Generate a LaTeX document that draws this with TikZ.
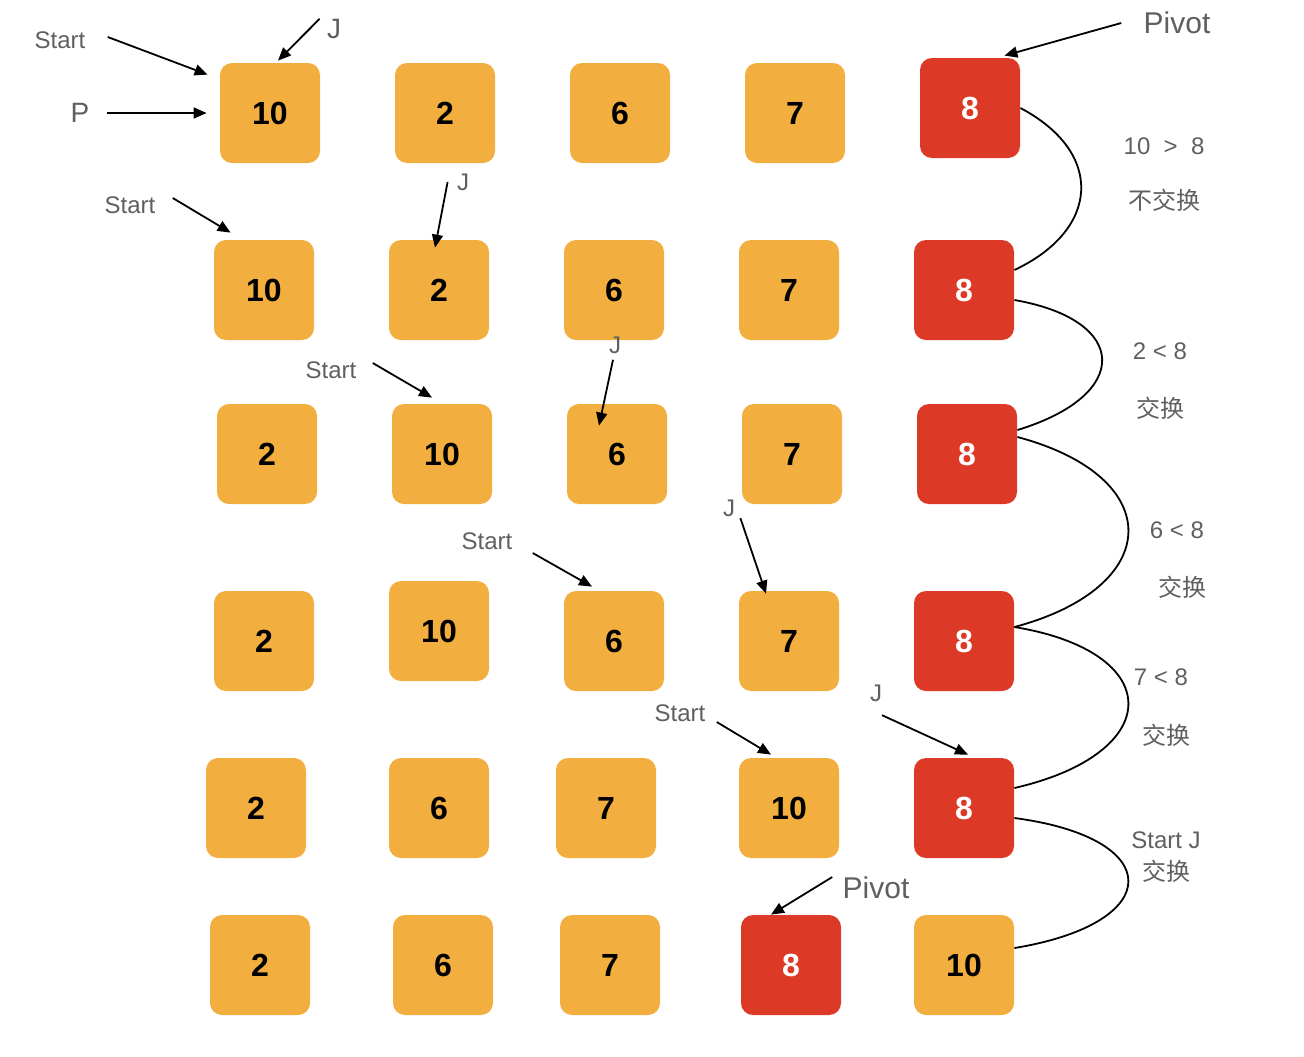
\documentclass[tikz,border=0pt]{standalone}
\usepackage{fontspec}
\setmainfont{Liberation Sans}
\newfontfamily\cjk{Noto Sans CJK SC}
\usetikzlibrary{arrows, arrows.meta, positioning}
\definecolor{cellorange}{HTML}{F2AE3E}
\definecolor{pivotred}{HTML}{DC3A26}
\definecolor{notegray}{HTML}{5F5F5F}
\tikzstyle{numcell} = [
  rectangle,
  rounded corners=6pt,
  minimum width=50pt,
  minimum height=50pt,
  inner sep=0pt,
  text centered,
  fill=cellorange,
  font=\fontsize{16}{16}\selectfont\bfseries
]
\tikzstyle{pivotcell} = [numcell, fill=pivotred, text=white]
\tikzstyle{note} = [inner sep=0pt, text=notegray, font=\fontsize{12}{14}\selectfont]
\tikzstyle{bignote} = [note, font=\fontsize{15}{17}\selectfont]
\tikzstyle{arrow} = [line width=0.9pt, ->, >={Triangle[length=6.5pt, width=5.5pt]}]
\tikzstyle{swapline} = [line width=0.9pt]

\begin{document}
\begin{tikzpicture}[x=0.5pt, y=-0.5pt, node distance=87.5pt]
    \useasboundingbox (0,0) rectangle (1304,1056);

    % row 1
    \node (r1-a) [numcell] at (270,113) {10};
    \node (r1-b) [numcell, right of=r1-a] {2};
    \node (r1-c) [numcell, right of=r1-b] {6};
    \node (r1-d) [numcell, right of=r1-c] {7};
    \node (r1-e) [pivotcell, right of=r1-d, yshift=2.5pt] {8};
    % row 2
    \node (r2-a) [numcell] at (264,290) {10};
    \node (r2-b) [numcell, right of=r2-a] {2};
    \node (r2-c) [numcell, right of=r2-b] {6};
    \node (r2-d) [numcell, right of=r2-c] {7};
    \node (r2-e) [pivotcell, right of=r2-d] {8};
    % row 3
    \node (r3-a) [numcell] at (267,454) {2};
    \node (r3-b) [numcell, right of=r3-a] {10};
    \node (r3-c) [numcell, right of=r3-b] {6};
    \node (r3-d) [numcell, right of=r3-c] {7};
    \node (r3-e) [pivotcell, right of=r3-d] {8};
    % row 4
    \node (r4-a) [numcell] at (264,641) {2};
    \node (r4-b) [numcell, right of=r4-a, yshift=5pt] {10};
    \node (r4-c) [numcell, right of=r4-b, yshift=-5pt] {6};
    \node (r4-d) [numcell, right of=r4-c] {7};
    \node (r4-e) [pivotcell, right of=r4-d] {8};
    % row 5
    \node (r5-a) [numcell] at (256,808) {2};
    \node (r5-b) [numcell, right of=r5-a, xshift=4pt] {6};
    \node (r5-c) [numcell, right of=r5-b, xshift=-4pt] {7};
    \node (r5-d) [numcell, right of=r5-c, xshift=4pt] {10};
    \node (r5-e) [pivotcell, right of=r5-d] {8};
    % row 6
    \node (r6-a) [numcell] at (260,965) {2};
    \node (r6-b) [numcell, right of=r6-a, xshift=4pt] {6};
    \node (r6-c) [numcell, right of=r6-b, xshift=-4pt] {7};
    \node (r6-d) [pivotcell, right of=r6-c, xshift=3pt] {8};
    \node (r6-e) [numcell, right of=r6-d, xshift=-1pt] {10};

    % pointers
    \node (start1) [note] at (60,40) {Start};
    \node (p1) [bignote, font=\fontsize{14}{16}\selectfont] at (80,113) {P};
    \node (j1) [bignote, font=\fontsize{14}{16}\selectfont] at (334,29) {J};
    \node (pivot1) [bignote] at (1177,23) {Pivot};
    \node (start2) [note] at (130,205) {Start};
    \node (j2) [note] at (463,182) {J};
    \node (start3) [note] at (331,370) {Start};
    \node (j3) [note] at (615,345) {J};
    \node (start4) [note] at (487,541) {Start};
    \node (j4) [note] at (729,508) {J};
    \node (start5) [note] at (680,713) {Start};
    \node (j5) [note] at (876,693) {J};
    \node (pivot2) [bignote] at (876,888) {Pivot};

    % comparisons
    \node (cmp1) [note] at (1164,146) {10\ \ >\ \ 8};
    \node (res1) [note] at (1164,200) {\cjk 不交换};
    \node (cmp2) [note] at (1160,351) {2 < 8};
    \node (res2) [note] at (1160,408) {\cjk 交换};
    \node (cmp3) [note] at (1177,530) {6 < 8};
    \node (res3) [note] at (1182,587) {\cjk 交换};
    \node (cmp4) [note] at (1161,677) {7 < 8};
    \node (res4) [note] at (1166,735) {\cjk 交换};
    \node (cmp5) [note] at (1166,840) {Start J};
    \node (res5) [note] at (1166,871) {\cjk 交换};

    \draw [arrow] ([xshift=11pt, yshift=1.5pt]start1.east) -- ([xshift=-6pt, yshift=-6pt]r1-a.north west);
    \draw [arrow] ([xshift=8.5pt]p1.east) -- ([xshift=-6.5pt]r1-a.west);
    \draw [arrow] ([xshift=-3.5pt]j1.north west) -- ([xshift=4pt, yshift=1pt]r1-a.north);
    \draw [arrow] ([xshift=-11pt]pivot1.west) -- ([xshift=-8pt, yshift=1pt]r1-e.north east);
    \draw [arrow] ([xshift=8.5pt, yshift=3.5pt]start2.east) -- ([xshift=8.5pt, yshift=3.5pt]r2-a.north west);
    \draw [arrow] ([xshift=-4.5pt]j2.west) -- ([xshift=-2pt, yshift=-4pt]r2-b.north);
    \draw [arrow] ([xshift=8pt, yshift=3.5pt]start3.east) -- ([xshift=-5pt, yshift=3pt]r3-b.north);
    \draw [arrow] ([xshift=-1pt, yshift=-3pt]j3.south) -- ([xshift=-9pt, yshift=-11pt]r3-c.north);
    \draw [arrow] ([xshift=10pt, yshift=-6pt]start4.east) -- ([xshift=-11pt, yshift=2pt]r4-c.north);
    \draw [arrow] ([xshift=2.5pt, yshift=-0.7pt]j4.south east) -- ([xshift=-11.5pt, yshift=-1.5pt]r4-d.north);
    \draw [arrow] ([xshift=5.5pt, yshift=-4.5pt]start5.east) -- ([xshift=-9pt, yshift=1.5pt]r5-d.north);
    \draw [arrow] ([xshift=3pt, yshift=-6.7pt]j5.south) -- ([xshift=2pt, yshift=1.5pt]r5-e.north);
    \draw [arrow] ([xshift=-5pt, yshift=5.5pt]pivot2.west) -- ([xshift=-10pt]r6-d.north);

    % pivot swaps
    \draw [swapline] (r1-e.east) .. controls +(85,45) and +(85,-40) .. ([yshift=10pt]r2-e.east);
    \draw [swapline] ([yshift=-5pt]r2-e.east) .. controls +(115,20) and +(115,-35) .. ([yshift=12pt]r3-e.east);
    \draw [swapline] ([yshift=8.5pt]r3-e.east) .. controls +(150,40) and +(150,-40) .. ([yshift=7pt]r4-e.east);
    \draw [swapline] ([yshift=7pt]r4-e.east) .. controls +(152,25) and +(152,-35) .. ([yshift=10pt]r5-e.east);
    \draw [swapline] ([yshift=-5pt]r5-e.east) .. controls +(152,20) and +(152,-25) .. ([yshift=8.5pt]r6-e.east);
  \end{tikzpicture}
\end{document}
